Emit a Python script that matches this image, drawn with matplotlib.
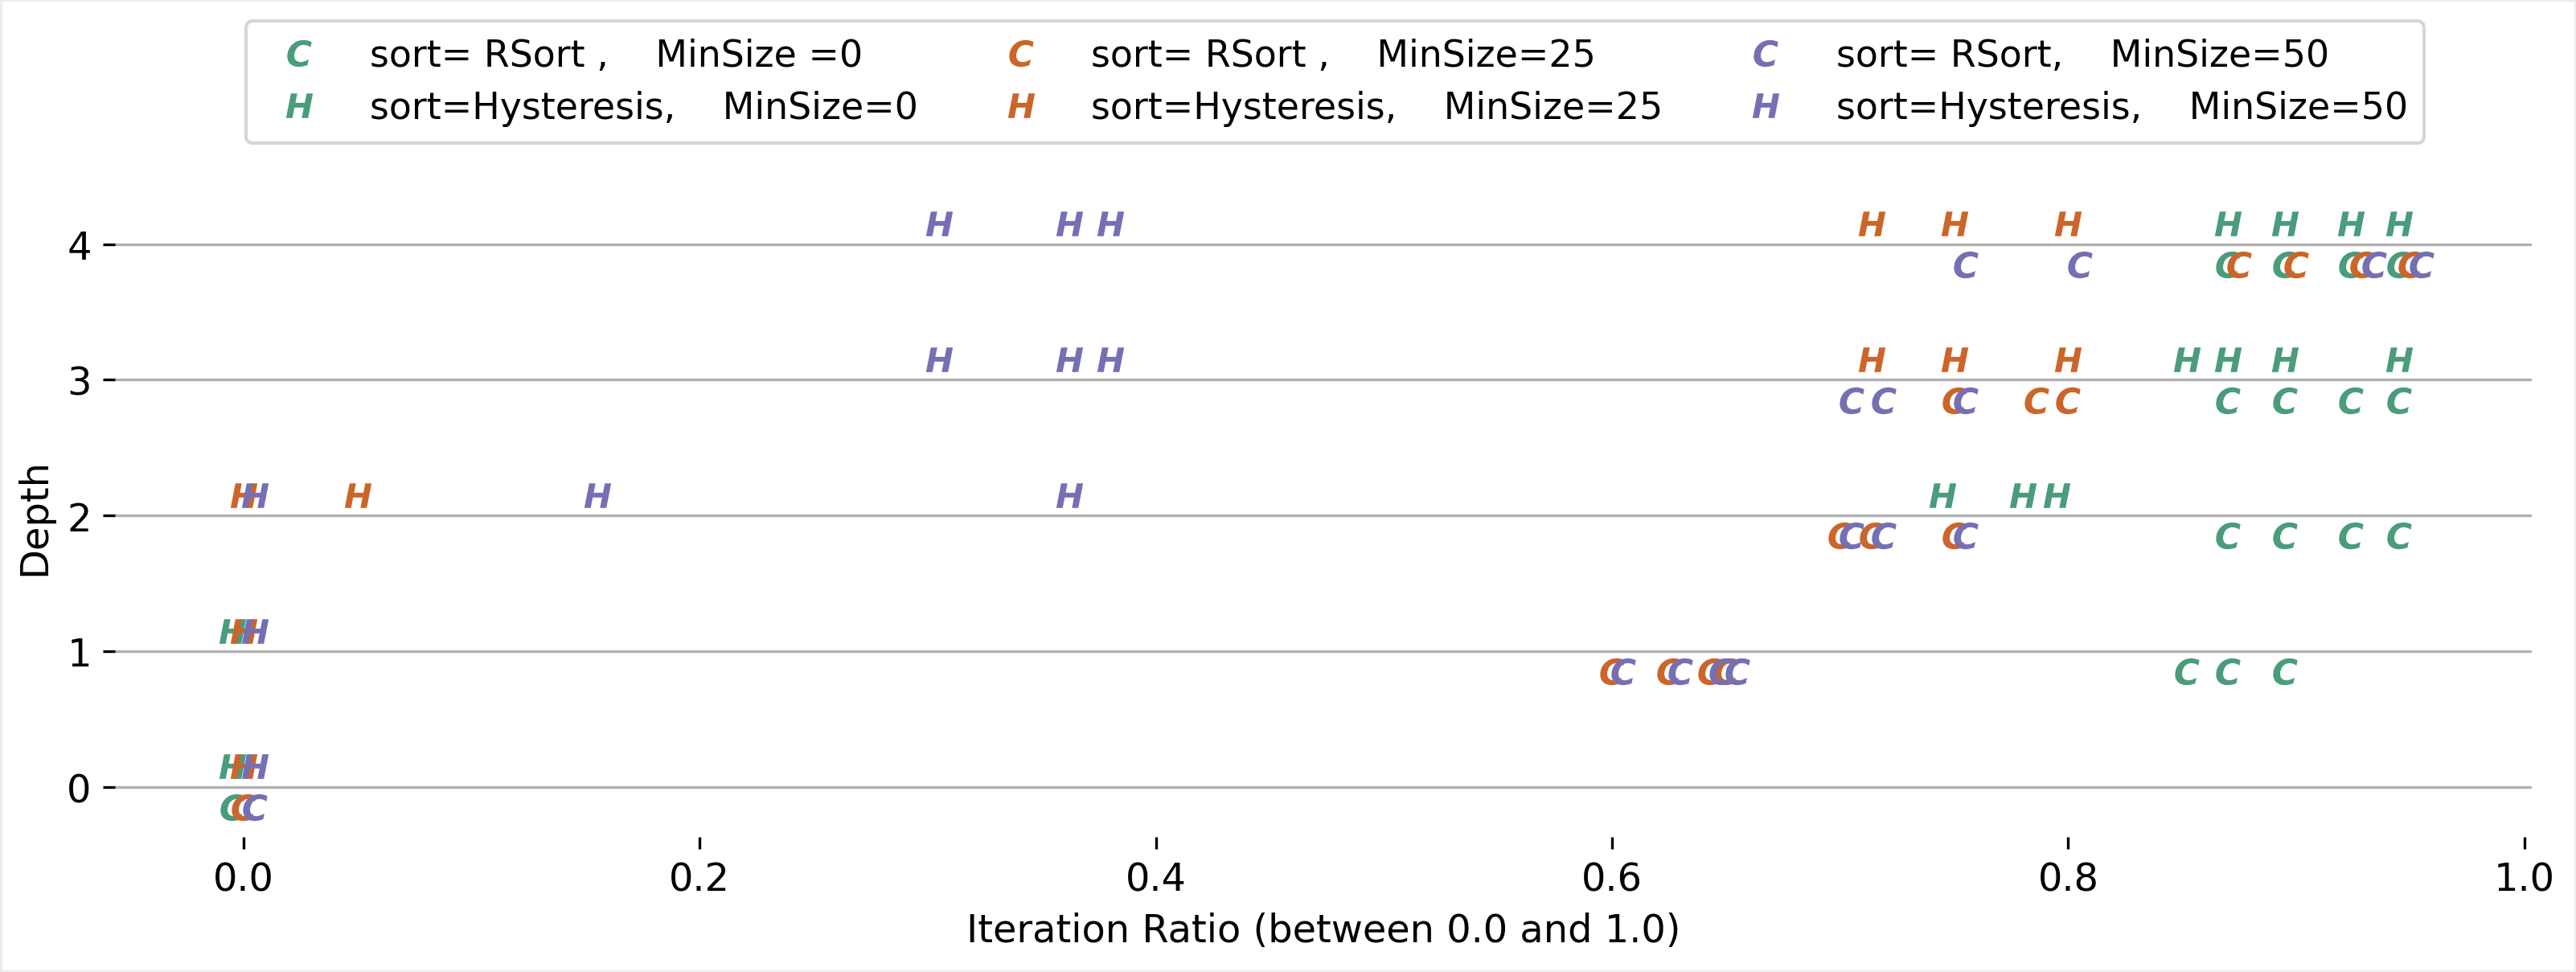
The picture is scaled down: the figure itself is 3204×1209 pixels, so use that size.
import matplotlib
matplotlib.use("Agg")
import matplotlib.pyplot as plt

plt.rcParams['font.family'] = ['DejaVu Sans']
plt.rcParams['mathtext.fontset'] = 'custom'
plt.rcParams['mathtext.it'] = 'DejaVu Sans:italic:bold'
plt.rcParams['mathtext.rm'] = 'DejaVu Sans:bold'

# ---------------- data ----------------
depths = [0, 1, 2, 3, 4]
min_sizes = [0, 25, 50]
sorts = ["RSort", "Hysteresis"]

# iteration ratios per depth (index = depth)
rsort_min0 = [[0.0], [0.857, 0.875, 0.900], [0.875, 0.900, 0.929, 0.950],
              [0.875, 0.900, 0.929, 0.950], [0.875, 0.900, 0.929, 0.950]]
hyst_min0 = [[0.0], [0.0], [0.750, 0.785, 0.800],
             [0.857, 0.875, 0.900, 0.950], [0.875, 0.900, 0.929, 0.950]]
rsort_min25 = [[0.0], [0.600, 0.625, 0.643, 0.650], [0.700, 0.714, 0.750],
               [0.750, 0.786, 0.800], [0.875, 0.900, 0.929, 0.950]]
hyst_min25 = [[0.0], [0.0], [0.0, 0.050],
              [0.714, 0.750, 0.800], [0.714, 0.750, 0.800]]
rsort_min50 = [[0.0], [0.600, 0.625, 0.643, 0.650], [0.700, 0.714, 0.750],
               [0.700, 0.714, 0.750], [0.750, 0.800, 0.929, 0.950]]
hyst_min50 = [[0.0], [0.0], [0.0, 0.150, 0.357],
              [0.300, 0.357, 0.375], [0.300, 0.357, 0.375]]

labels_rsort = ["sort= RSort ,    MinSize =0", "sort= RSort ,    MinSize=25", "sort= RSort,    MinSize=50"]
labels_hyst = ["sort=Hysteresis,    MinSize=0", "sort=Hysteresis,    MinSize=25", "sort=Hysteresis,    MinSize=50"]

# ---------------- style ----------------
colors = ["#4a9c7b", "#cc6529", "#7570b3"]
x_shift = [-0.005, 0.0, 0.005]
y_shift = {"RSort": -0.15, "Hysteresis": 0.15}
markers = {"RSort": "$C$", "Hysteresis": "$H$"}

series = {
    (0, "RSort"): rsort_min0, (0, "Hysteresis"): hyst_min0,
    (25, "RSort"): rsort_min25, (25, "Hysteresis"): hyst_min25,
    (50, "RSort"): rsort_min50, (50, "Hysteresis"): hyst_min50,
}
labels = {}
for i, m in enumerate(min_sizes):
    labels[(m, "RSort")] = labels_rsort[i]
    labels[(m, "Hysteresis")] = labels_hyst[i]

fig = plt.figure(figsize=(10.68, 4.0333), dpi=300)
fig.patch.set_edgecolor('#ececec')
fig.patch.set_linewidth(1.2)
ax = fig.add_axes([0.0446, 0.1388, 0.9382, 0.6604])

handles = []
for i, m in enumerate(min_sizes):
    for s in sorts:
        vals = series[(m, s)]
        xs, ys = [], []
        for d, row in zip(depths, vals):
            for v in row:
                xs.append(v + x_shift[i])
                ys.append(d + y_shift[s])
        h, = ax.plot(xs, ys, linestyle='none', marker=markers[s], markersize=8,
                     color=colors[i], markeredgewidth=0, label=labels[(m, s)])
        handles.append(h)

ax.set_xlim(-0.0564, 1.0032)
ax.set_ylim(-0.37, 4.365)
ax.set_yticks(depths)
ax.set_xticks([0.0, 0.2, 0.4, 0.6, 0.8, 1.0])
ax.tick_params(labelsize=11.5)
ax.yaxis.grid(True, color='#b0b0b0', linewidth=0.8)
ax.set_axisbelow(True)
for sp in ax.spines.values():
    sp.set_visible(False)
ax.set_xlabel("Iteration Ratio (between 0.0 and 1.0)", fontsize=11.5)
ax.set_ylabel("Depth", fontsize=11.5)

fig.legend(handles=handles, ncol=3, loc='upper left',
           bbox_to_anchor=(306 / 3204, 1 - 27 / 1210), bbox_transform=fig.transFigure,
           borderaxespad=0.0, fontsize=11, handletextpad=0.9, columnspacing=1.8,
           labelspacing=0.45, borderpad=0.45, frameon=True)

fig.savefig("out.png", dpi=300)
